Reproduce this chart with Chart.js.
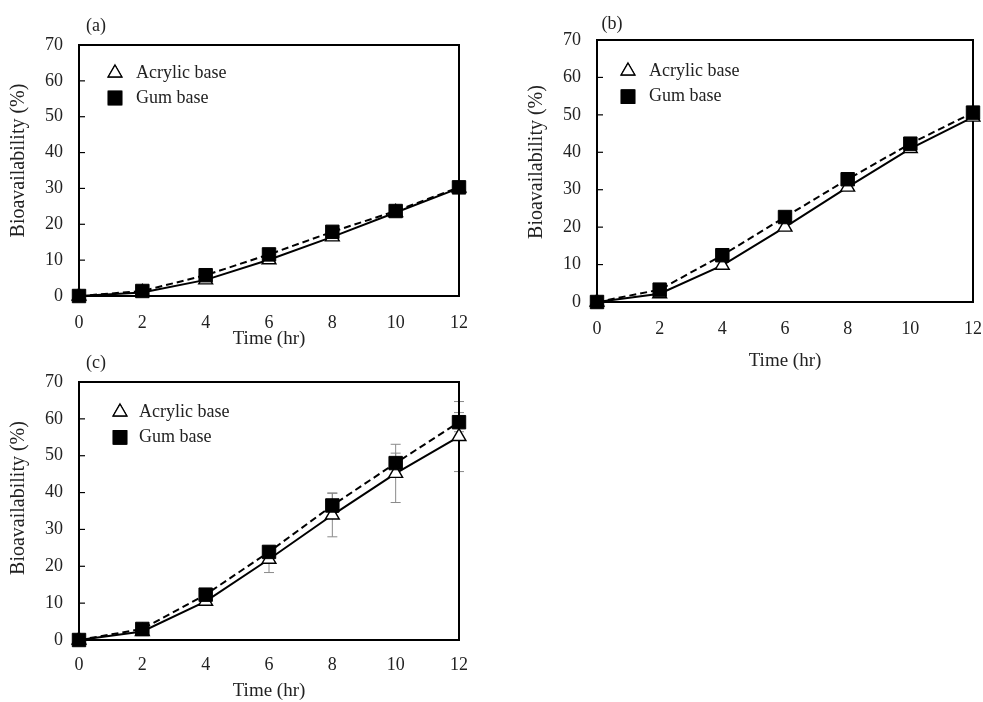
<!DOCTYPE html>
<html>
<head>
<meta charset="utf-8">
<script src="https://cdn.jsdelivr.net/npm/chart.js@4/dist/chart.umd.min.js"></script>
<style>
  html, body { margin: 0; padding: 0; background: #fff; width: 983px; height: 702px; overflow: hidden; }
  .panel { position: absolute; }
</style>
</head>
<body>
<div class="panel" style="left:0;top:0"><canvas id="panelA" width="490" height="350"></canvas></div>
<div class="panel" style="left:500px;top:0"><canvas id="panelB" width="498" height="372"></canvas></div>
<div class="panel" style="left:0;top:350px"><canvas id="panelC" width="490" height="352"></canvas></div>
<script>
// Sampling times (hr)
const times = [0, 2, 4, 6, 8, 10, 12];
const seriesNames = ['Acrylic base', 'Gum base'];
const xTitle = 'Time (hr)';
const yTitle = 'Bioavailability (%)';
const panelLetters = ['(a)', '(b)', '(c)'];

// Bioavailability (%) per panel
const acrylicA = [0, 1.0, 4.5, 10.1, 16.5, 23.3, 30.1];
const gumA     = [0, 1.4, 5.8, 11.6, 17.9, 23.7, 30.3];
const acrylicB = [0, 2.2, 9.8, 20.0, 30.7, 41.0, 49.4];
const gumB     = [0, 3.3, 12.5, 22.7, 32.8, 42.3, 50.6];
const acrylicC = [0, 2.3, 10.5, 21.9, 33.9, 45.2, 55.2];
const gumC     = [0, 3.0, 12.3, 23.9, 36.5, 48.0, 59.1];
// Standard deviations shown in panel (c)
const acrylicErrC = [0, 0.5, 0.8, 3.6, 5.9, 7.9, 9.5];
const gumErrC     = [0, 0.5, 0.6, 1.0, 3.4, 2.7, 2.6];

const FONT = "'Liberation Serif', 'Times New Roman', serif";
const TEXT = '#222';

function points(vals) { return times.map((t, i) => ({ x: t, y: vals[i] })); }

// Frame, inward y ticks, error bars, legend, panel letter, y title
const panelDecor = {
  id: 'panelDecor',
  beforeDatasetsDraw(chart, args, o) {
    const { ctx, chartArea: a, scales: { x, y } } = chart;
    ctx.save();
    chart.data.datasets.forEach(ds => {
      if (!ds.errors) return;
      ctx.strokeStyle = '#8a8a8a';
      ctx.lineWidth = 1;
      ds.data.forEach((p, i) => {
        const e = ds.errors[i];
        if (!e) return;
        const px = x.getPixelForValue(p.x);
        const t = y.getPixelForValue(p.y + e);
        const b = y.getPixelForValue(p.y - e);
        ctx.beginPath();
        ctx.moveTo(px, t); ctx.lineTo(px, b);
        ctx.moveTo(px - 5, t); ctx.lineTo(px + 5, t);
        ctx.moveTo(px - 5, b); ctx.lineTo(px + 5, b);
        ctx.stroke();
      });
    });
    ctx.strokeStyle = '#000';
    ctx.lineWidth = 2;
    ctx.strokeRect(a.left, a.top, a.width, a.height);
    ctx.lineWidth = 1.2;
    y.ticks.forEach((tk, i) => {
      const py = y.getPixelForTick(i);
      ctx.beginPath(); ctx.moveTo(a.left, py); ctx.lineTo(a.left + 6, py); ctx.stroke();
    });
    ctx.restore();
  },
  afterDraw(chart, args, o) {
    const { ctx, chartArea: a } = chart;
    ctx.save();
    ctx.fillStyle = TEXT;
    ctx.font = `18px ${FONT}`;
    ctx.textAlign = 'center';
    ctx.textBaseline = 'middle';
    ctx.fillText(o.letter, o.letterX, o.letterY);
    // legend, in dataset order
    chart.data.datasets.forEach((ds, k) => {
      const yy = a.top + o.legendY + k * o.legendGap;
      const xx = a.left + o.legendX;
      Chart.helpers.drawPoint(ctx, {
        pointStyle: ds.pointStyle, radius: ds.pointRadius, rotation: 0,
        borderWidth: ds.pointBorderWidth
      }, xx, yy);
      ctx.fillStyle = ds.pointBackgroundColor;
      ctx.strokeStyle = ds.pointBorderColor;
      ctx.lineWidth = ds.pointBorderWidth;
      ctx.fill();
      ctx.stroke();
      ctx.fillStyle = TEXT;
      ctx.font = `18px ${FONT}`;
      ctx.textAlign = 'left';
      ctx.fillText(ds.label, a.left + o.legendText, yy);
    });
    // y axis title
    ctx.translate(o.yTitleX, (a.top + a.bottom) / 2 - o.yTitleShift);
    ctx.rotate(-Math.PI / 2);
    ctx.textAlign = 'center';
    ctx.font = `20px ${FONT}`;
    ctx.fillStyle = TEXT;
    ctx.fillText(yTitle, 0, 0);
    ctx.restore();
  }
};

function makePanel(id, acrylic, gum, acrylicErr, gumErr, g) {
  const datasets = [
    {
      label: seriesNames[0], data: points(acrylic), errors: acrylicErr, order: 1,
      borderColor: '#000', borderWidth: 2, showLine: true, tension: 0,
      pointStyle: 'triangle', pointRadius: 8, pointBorderWidth: 1.4,
      pointBackgroundColor: '#fff', pointBorderColor: '#000', clip: false
    },
    {
      label: seriesNames[1], data: points(gum), errors: gumErr, order: 0,
      borderColor: '#000', borderWidth: 2, borderDash: [7, 4], showLine: true, tension: 0,
      pointStyle: 'rect', pointRadius: 9.5, pointBorderWidth: 1,
      pointBackgroundColor: '#000', pointBorderColor: '#000', clip: false
    }
  ];
  return new Chart(document.getElementById(id), {
    type: 'line',
    data: { datasets },
    plugins: [panelDecor],
    options: {
      responsive: false,
      animation: false,
      devicePixelRatio: 1,
      layout: { padding: { left: 0, top: g.top, right: g.right, bottom: 0 } },
      plugins: {
        legend: { display: false },
        tooltip: { enabled: false },
        panelDecor: g
      },
      scales: {
        x: {
          type: 'linear', min: 0, max: 12,
          afterFit: s => { s.height = g.xHeight; },
          grid: { display: false, drawTicks: false },
          border: { display: false },
          ticks: { stepSize: 2, padding: g.xTickPad, color: TEXT, font: { family: FONT, size: 18 } },
          title: { display: true, text: xTitle, color: TEXT, font: { family: FONT, size: 19 },
                   padding: { top: 0, bottom: g.xTitlePad } }
        },
        y: {
          min: 0, max: 70,
          afterFit: s => { s.width = g.left; },
          grid: { display: false, drawTicks: false },
          border: { display: false },
          ticks: { stepSize: 10, padding: 16, color: TEXT, font: { family: FONT, size: 18 } }
        }
      }
    }
  });
}

makePanel('panelA', acrylicA, gumA, null, null, {
  left: 79, top: 45, right: 31, xHeight: 54, xTickPad: 16, xTitlePad: 0,
  letter: panelLetters[0], letterX: 96, letterY: 26,
  legendX: 36, legendY: 28, legendGap: 25, legendText: 57,
  yTitleX: 19, yTitleShift: 10
});
makePanel('panelB', acrylicB, gumB, null, null, {
  left: 97, top: 40, right: 25, xHeight: 70, xTickPad: 16, xTitlePad: 0,
  letter: panelLetters[1], letterX: 112, letterY: 24,
  legendX: 31, legendY: 31, legendGap: 25.7, legendText: 52,
  yTitleX: 37, yTitleShift: 9
});
makePanel('panelC', acrylicC, gumC, acrylicErrC, gumErrC, {
  left: 79, top: 32, right: 31, xHeight: 62, xTickPad: 14, xTitlePad: 0,
  letter: panelLetters[2], letterX: 96, letterY: 13,
  legendX: 41, legendY: 30, legendGap: 25.4, legendText: 60,
  yTitleX: 19, yTitleShift: 13
});
</script>
</body>
</html>
